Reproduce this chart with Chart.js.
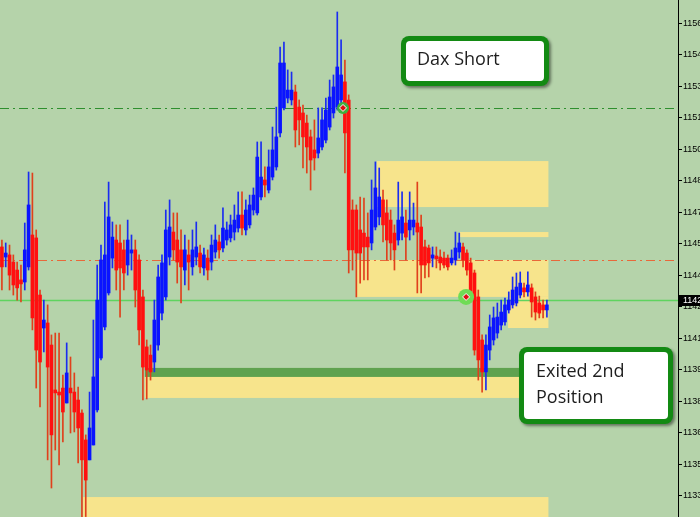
<!DOCTYPE html>
<html><head><meta charset="utf-8">
<script src="https://cdn.jsdelivr.net/npm/chart.js@4.4.1/dist/chart.umd.min.js"></script>
<style>
html,body{margin:0;padding:0;overflow:hidden;background:#b5d3aa;width:700px;height:517px}
#wrap{position:absolute;left:0;top:0;width:730px;height:517px}
</style>
</head><body><div id="wrap"><canvas id="c" width="730" height="517"></canvas></div>
<script>
// ---- candle data (DAX, OHLC) ----
const candleOpen=[11453.4,11448.6,11449.6,11446.2,11442.4,11437.7,11436.7,11443.9,11459.1,11457.7,
11430.5,11414.8,11417.2,11406.7,11385.3,11384.3,11386.2,11379.1,11386.2,11384.3,
11380.5,11374.3,11361.5,11352.0,11359.1,11375.8,11400.5,11415.3,11431.5,11448.1,
11456.7,11455.3,11452.0,11444.8,11450.5,11452.0,11447.2,11429.6,11405.8,11401.9,
11398.6,11406.7,11421.9,11429.6,11448.6,11460.5,11456.7,11452.0,11442.4,11449.6,
11443.9,11448.6,11450.5,11443.4,11448.1,11446.2,11451.0,11455.8,11452.9,11456.7,
11457.7,11460.5,11462.4,11468.6,11461.5,11463.9,11471.0,11469.6,11477.2,11485.3,
11480.5,11486.7,11491.5,11507.7,11519.6,11524.3,11523.4,11527.2,11520.0,11517.2,
11512.4,11505.8,11499.6,11498.1,11501.0,11504.3,11510.5,11517.2,11520.0,11523.4,
11532.0,11523.4,11471.0,11471.0,11461.5,11460.0,11458.1,11455.3,11462.9,11467.7,
11475.8,11469.6,11466.2,11460.0,11456.7,11460.0,11464.8,11461.5,11462.9,11464.8,
11462.9,11453.4,11452.9,11448.1,11449.1,11448.6,11448.1,11448.1,11445.8,11447.2,
11451.0,11453.4,11450.5,11445.8,11441.0,11429.6,11409.1,11393.9,11404.3,11409.1,
11412.4,11416.2,11417.7,11423.4,11425.8,11426.7,11430.5,11433.9,11432.0,11433.9,
11429.6,11426.7,11425.8,11423.4];
const candleHigh=[11456.7,11455.3,11454.3,11449.6,11446.2,11444.8,11464.8,11489.1,11488.6,11461.5,
11432.9,11428.1,11425.8,11411.5,11412.4,11412.4,11392.4,11407.7,11401.0,11393.4,
11386.7,11375.8,11363.9,11384.3,11418.6,11444.8,11454.3,11474.8,11484.3,11465.3,
11463.9,11463.9,11456.7,11466.2,11459.1,11456.7,11449.6,11432.9,11409.1,11406.7,
11428.1,11444.8,11449.6,11471.0,11475.8,11469.6,11469.6,11461.5,11459.1,11456.7,
11461.5,11465.3,11454.3,11452.9,11452.0,11459.1,11463.9,11459.1,11472.0,11465.3,
11468.6,11473.4,11479.6,11479.6,11475.8,11478.1,11481.5,11503.4,11503.4,11491.5,
11499.6,11510.5,11520.0,11548.6,11551.0,11537.7,11536.7,11530.5,11523.4,11521.0,
11516.2,11509.1,11513.9,11519.6,11519.6,11524.3,11532.9,11535.3,11565.3,11552.0,
11542.4,11525.8,11475.8,11473.4,11477.2,11476.7,11469.6,11485.3,11493.9,11491.0,
11480.5,11475.8,11471.0,11463.9,11484.3,11479.6,11471.0,11479.6,11474.3,11484.3,
11468.6,11456.7,11454.3,11453.4,11453.4,11452.0,11451.0,11449.6,11452.0,11460.5,
11460.0,11455.3,11452.0,11448.1,11442.4,11432.9,11411.5,11411.5,11421.0,11424.8,
11426.7,11428.1,11429.1,11432.0,11439.1,11441.0,11441.5,11436.2,11441.5,11435.8,
11432.0,11430.0,11428.1,11428.1];
const candleLow=[11432.9,11443.9,11432.9,11430.5,11428.1,11427.2,11432.9,11442.4,11413.9,11386.2,
11377.2,11403.4,11352.0,11338.6,11356.7,11349.6,11360.5,11379.1,11364.8,11365.3,
11350.5,11325.0,11325.0,11352.0,11359.1,11374.8,11399.6,11413.9,11430.5,11443.4,
11432.9,11420.0,11432.9,11440.0,11442.4,11424.8,11406.7,11380.5,11381.0,11390.0,
11393.9,11404.3,11418.6,11428.1,11444.8,11447.2,11436.2,11426.7,11435.3,11432.9,
11440.0,11444.8,11441.0,11440.0,11437.7,11442.4,11448.1,11448.1,11451.0,11454.3,
11455.8,11456.7,11460.5,11459.1,11459.1,11462.4,11468.6,11468.6,11475.8,11477.2,
11479.1,11485.3,11490.0,11505.8,11518.6,11522.0,11521.0,11501.0,11502.0,11491.0,
11488.6,11480.5,11490.0,11495.8,11499.6,11502.9,11509.1,11514.8,11518.6,11517.7,
11488.6,11441.0,11442.4,11429.6,11436.2,11437.7,11437.7,11452.0,11461.5,11463.9,
11455.8,11447.2,11447.2,11442.4,11454.3,11456.7,11447.2,11456.7,11459.1,11431.5,
11431.5,11438.6,11439.1,11443.9,11443.4,11442.4,11443.4,11442.4,11444.8,11444.8,
11448.1,11443.9,11440.0,11428.1,11401.9,11390.0,11384.3,11385.3,11399.6,11406.7,
11410.0,11413.9,11416.2,11421.9,11424.3,11425.3,11429.1,11429.6,11430.0,11420.0,
11418.6,11419.6,11419.6,11420.0];
const candleClose=[11443.9,11450.5,11440.0,11435.3,11433.9,11435.8,11452.0,11473.4,11419.6,11404.3,
11398.6,11418.6,11396.2,11363.9,11383.9,11382.9,11374.8,11393.4,11383.9,11374.8,
11367.2,11352.0,11342.4,11367.2,11391.5,11428.1,11447.2,11449.6,11467.7,11458.1,
11442.4,11443.4,11441.0,11456.7,11452.0,11432.9,11413.9,11396.2,11394.8,11393.9,
11418.6,11439.1,11445.8,11461.5,11462.9,11452.0,11446.2,11443.9,11452.0,11446.2,
11452.0,11453.4,11443.9,11449.6,11442.4,11454.3,11456.7,11452.0,11462.4,11461.5,
11463.9,11466.2,11468.6,11462.4,11471.0,11473.4,11478.1,11496.2,11486.7,11482.9,
11491.5,11499.6,11505.8,11541.0,11541.0,11528.1,11528.1,11509.1,11513.9,11505.8,
11501.0,11494.8,11495.8,11505.3,11513.9,11518.6,11524.8,11529.6,11539.1,11535.3,
11507.7,11452.0,11452.0,11450.5,11450.5,11453.4,11453.4,11471.0,11481.5,11477.2,
11463.9,11456.7,11455.3,11452.0,11466.2,11467.7,11458.1,11466.2,11466.2,11460.5,
11444.8,11444.8,11445.8,11449.6,11447.7,11445.8,11444.8,11443.9,11448.1,11452.9,
11455.3,11447.2,11442.4,11429.6,11404.3,11399.6,11393.9,11406.7,11415.3,11419.6,
11420.0,11422.4,11425.8,11428.1,11432.9,11434.3,11436.2,11432.0,11435.3,11427.2,
11422.4,11421.9,11423.4,11425.8];

// ---- price axis ticks ----
const priceTicks=[11335,11350,11365,11380,11395,11410,11425,11440,11455,11470,11485,11500,11515,11530,11545,11560];

// ---- supply/demand zones (bar index range, price range) ----
const zoneFrom=[98.4,120.2,93.2,132.8,37.5,21.3];
const zoneTo=[143.4,143.4,143.4,143.4,136.0,143.4];
const zoneHigh=[11494.3,11460.5,11447.2,11429.6,11391.9,11334.3];
const zoneLow=[11472.4,11458.1,11429.6,11414.8,11381.5,11320.0];
const supportFrom=[37.5], supportTo=[136.0], supportHigh=[11395.8], supportLow=[11391.5];

// ---- horizontal levels ----
const entryLevel=11519.6;   // green dash-dot
const midLevel=11447.2;     // orange dash-dot
const priceLevel=11428.1;   // current price (solid green)

// ---- trade markers ----
const markerX=[89.5,121.8];
const markerY=[11519.6,11429.6];

// ---- annotations text ----
const noteTop="Dax Short";
const noteBottom=["Exited 2nd","Position"];

const idx=candleOpen.map((_,i)=>i);
const up=idx.map(i=>candleClose[i]>=candleOpen[i]);
const wickData=idx.map(i=>({x:i,y:[candleLow[i],candleHigh[i]]}));
const bodyData=idx.map(i=>({x:i,y:[candleOpen[i],candleClose[i]]}));
const markerData=markerX.map((x,i)=>({x:x,y:markerY[i]}));

function roundBox(ctx,x,y,w,h){
  ctx.save();
  ctx.shadowColor='rgba(0,0,0,0.45)';ctx.shadowOffsetX=2;ctx.shadowOffsetY=2;ctx.shadowBlur=3;
  ctx.fillStyle='#138a13';
  ctx.beginPath();ctx.roundRect(x,y,w,h,8);ctx.fill();
  ctx.restore();
  ctx.save();
  ctx.fillStyle='#ffffff';
  ctx.beginPath();ctx.roundRect(x+5,y+5,w-10,h-10,4);ctx.fill();
  ctx.restore();
}

const mtPlugin={
  id:'mt',
  beforeDraw(c){const ctx=c.ctx;ctx.save();ctx.fillStyle='#b5d3aa';ctx.fillRect(0,0,c.width,c.height);ctx.restore();},
  beforeDatasetsDraw(c){
    const ctx=c.ctx,x=c.scales.x,y=c.scales.y,a=c.chartArea;
    ctx.save();
    ctx.beginPath();ctx.rect(a.left,a.top,a.right-a.left,a.bottom-a.top);ctx.clip();
    ctx.fillStyle='#f7e48c';
    zoneFrom.forEach((f,i)=>{
      const x0=x.getPixelForValue(f),x1=x.getPixelForValue(zoneTo[i]);
      const y0=y.getPixelForValue(zoneHigh[i]),y1=y.getPixelForValue(zoneLow[i]);
      ctx.fillRect(x0,y0,x1-x0,y1-y0);
    });
    ctx.fillStyle='#5fa24f';
    supportFrom.forEach((f,i)=>{
      const x0=x.getPixelForValue(f),x1=x.getPixelForValue(supportTo[i]);
      const y0=y.getPixelForValue(supportHigh[i]),y1=y.getPixelForValue(supportLow[i]);
      ctx.fillRect(x0,y0,x1-x0,y1-y0);
    });
    const hline=(v,col,dash,w)=>{
      const py=Math.round(y.getPixelForValue(v))+0.5;
      ctx.strokeStyle=col;ctx.lineWidth=w;ctx.setLineDash(dash);
      ctx.beginPath();ctx.moveTo(a.left,py);ctx.lineTo(a.right,py);ctx.stroke();
    };
    hline(entryLevel,'#2e8f2e',[9,4,2,4],1);
    hline(midLevel,'#e8683a',[9,4,2,4],1);
    hline(priceLevel,'#5fd35f',[],1.5);
    ctx.restore();
  },
  afterDraw(c){
    const ctx=c.ctx,y=c.scales.y,a=c.chartArea;
    const py=Math.round(y.getPixelForValue(priceLevel));
    ctx.save();
    ctx.fillStyle='#000';ctx.fillRect(a.right+1,py-5,60,11);
    ctx.fillStyle='#fff';ctx.font='9px "Liberation Sans"';ctx.textBaseline='middle';
    ctx.fillText(priceLevel.toFixed(1),a.right+5,py+0.5);
    ctx.restore();
    roundBox(ctx,401,36,148,50);
    roundBox(ctx,519,347,154,77);
    ctx.save();
    ctx.fillStyle='#1e1e1e';ctx.font='18px "Open Sans"';ctx.textBaseline='middle';
    ctx.fillText(noteTop,417,60);
    ctx.fillText(noteBottom[0],536,372);
    ctx.fillText(noteBottom[1],536,398);
    ctx.restore();
  }
};

new Chart(document.getElementById('c'),{
  type:'bar',
  data:{datasets:[
    {label:'wick',data:wickData,backgroundColor:idx.map(i=>up[i]?'#1a2cf0':'#e0401c'),barThickness:1,grouped:false,minBarLength:1,order:4},
    {label:'body',data:bodyData,backgroundColor:idx.map(i=>up[i]?'#0a14ff':'#ff1010'),barThickness:3,grouped:false,minBarLength:2,order:3},
    {type:'scatter',label:'mk',data:markerData,pointRadius:[6,8],backgroundColor:['#3fb03f','#6fdc55'],borderWidth:0,order:2},
    {type:'scatter',label:'mk2',data:markerData,pointStyle:'rectRot',pointRadius:3.5,backgroundColor:'#e01010',borderColor:'#ffffff',borderWidth:1,order:1}
  ]},
  options:{
    animation:false,responsive:false,devicePixelRatio:1,
    layout:{padding:0,autoPadding:false},
    plugins:{legend:{display:false},tooltip:{enabled:false}},
    scales:{
      x:{type:'linear',min:-0.5,max:177.4,display:false,offset:false},
      y:{position:'right',min:11324.8,max:11571,
        afterBuildTicks(s){s.ticks=priceTicks.map(v=>({value:v}));},
        afterFit(s){s.width=52;s.paddingTop=0;s.paddingBottom=0;},
        ticks:{callback:v=>Number(v).toFixed(1),color:'#000',font:{family:'Liberation Sans',size:9},padding:1,autoSkip:false},
        grid:{drawOnChartArea:false,drawTicks:true,tickLength:4,color:'#000'},
        border:{display:true,color:'#000',width:1}
      }
    }
  },
  plugins:[mtPlugin]
});
</script>
</body></html>
